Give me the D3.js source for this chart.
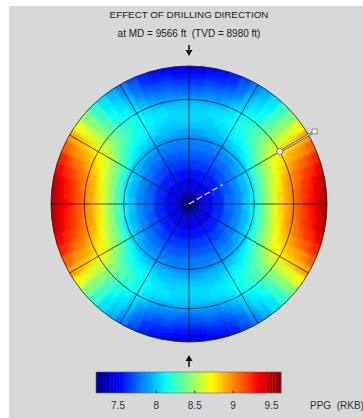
<!DOCTYPE html>
<html><head><meta charset="utf-8">
<script src="https://cdn.jsdelivr.net/npm/d3@7"></script>
<style>html,body{margin:0;padding:0;background:#fff;}svg{display:block;}</style>
</head><body>
<script>
// ---- data ----
const titleLines = ["EFFECT OF DRILLING DIRECTION", "at MD = 9566 ft  (TVD = 8980 ft)"];
// inclination rows (deg) and azimuth columns (deg, one quadrant; field is mirror-symmetric)
const inclinations = [0,5,10,15,20,25,30,35,40,45,50,55,60,65,70,75,80,85,90];
const azimuths = [0,5,10,15,20,25,30,35,40,45,50,55,60,65,70,75,80,85,90];
const ppg = [
  [7.32,7.32,7.32,7.32,7.32,7.32,7.32,7.32,7.32,7.32,7.32,7.32,7.32,7.32,7.32,7.32,7.32,7.32,7.32],
  [7.45,7.45,7.45,7.45,7.45,7.46,7.46,7.46,7.46,7.47,7.47,7.48,7.49,7.49,7.49,7.50,7.50,7.50,7.50],
  [7.55,7.55,7.55,7.55,7.55,7.56,7.56,7.57,7.57,7.58,7.58,7.59,7.60,7.61,7.61,7.62,7.62,7.62,7.62],
  [7.64,7.64,7.64,7.64,7.65,7.65,7.66,7.66,7.67,7.68,7.69,7.71,7.72,7.73,7.74,7.74,7.75,7.75,7.75],
  [7.72,7.72,7.72,7.72,7.73,7.73,7.74,7.75,7.76,7.77,7.79,7.80,7.82,7.83,7.84,7.85,7.86,7.86,7.86],
  [7.79,7.79,7.79,7.80,7.80,7.81,7.82,7.83,7.84,7.86,7.88,7.90,7.93,7.94,7.96,7.97,7.97,7.98,7.98],
  [7.85,7.85,7.85,7.86,7.86,7.88,7.89,7.91,7.92,7.94,7.97,8.00,8.03,8.05,8.07,8.08,8.09,8.10,8.10],
  [7.93,7.93,7.93,7.94,7.95,7.97,7.99,8.01,8.03,8.06,8.11,8.16,8.21,8.24,8.27,8.29,8.31,8.32,8.32],
  [7.99,7.99,8.00,8.00,8.01,8.03,8.06,8.09,8.12,8.16,8.22,8.28,8.35,8.39,8.43,8.46,8.48,8.50,8.50],
  [8.02,8.02,8.03,8.04,8.05,8.08,8.12,8.15,8.19,8.24,8.31,8.39,8.47,8.53,8.57,8.61,8.64,8.65,8.66],
  [8.03,8.03,8.04,8.05,8.07,8.10,8.15,8.19,8.24,8.30,8.39,8.49,8.59,8.66,8.71,8.76,8.80,8.81,8.82],
  [7.99,7.99,8.00,8.02,8.04,8.08,8.15,8.19,8.24,8.33,8.44,8.56,8.68,8.75,8.82,8.88,8.92,8.94,8.95],
  [7.90,7.90,7.91,7.93,7.96,8.02,8.10,8.15,8.22,8.33,8.45,8.59,8.73,8.82,8.90,8.97,9.02,9.04,9.05],
  [7.82,7.82,7.83,7.85,7.89,7.95,8.04,8.11,8.19,8.31,8.45,8.61,8.77,8.88,8.97,9.05,9.10,9.13,9.14],
  [7.74,7.74,7.76,7.78,7.81,7.89,7.99,8.07,8.15,8.29,8.45,8.63,8.81,8.92,9.03,9.12,9.18,9.21,9.22],
  [7.66,7.67,7.68,7.70,7.74,7.82,7.94,8.02,8.12,8.27,8.45,8.64,8.84,8.97,9.09,9.19,9.25,9.28,9.30],
  [7.58,7.59,7.60,7.63,7.67,7.76,7.89,7.98,8.08,8.25,8.44,8.66,8.88,9.02,9.15,9.25,9.33,9.36,9.38],
  [7.51,7.52,7.53,7.56,7.61,7.71,7.84,7.94,8.06,8.24,8.45,8.69,8.92,9.08,9.22,9.33,9.41,9.45,9.47],
  [7.45,7.46,7.47,7.50,7.56,7.66,7.81,7.91,8.04,8.23,8.46,8.71,8.96,9.13,9.28,9.40,9.49,9.53,9.55]
];
const gridInclinations = [30, 60, 90];
const gridAzimuths = [0,30,60,90,120,150,180,210,240,270,300,330];
const wellPoint = {azimuth: 60, inclination: 60};
const trajectoryEnd = {azimuth: 60, inclination: 14};
const colorDomain = [7.22, 9.63];
const colorTicks = [7.5, 8, 8.5, 9, 9.5];
const unitLabel = "PPG  (RKB)";

// ---- drawing ----
const W = 363, H = 418;
const FONT = "Liberation Sans, Arial, sans-serif";
const svg = d3.select("body").append("svg").attr("width", W).attr("height", H);
svg.append("rect").attr("width", W).attr("height", H).attr("fill", "#fff");
svg.append("rect").attr("x", 9).attr("y", 6).attr("width", W - 9).attr("height", H - 6).attr("fill", "#d8d8d8");

function jet(t) {
  const c = v => Math.max(0, Math.min(1, v));
  const r = c(1.5 - Math.abs(4 * t - 3)), g = c(1.5 - Math.abs(4 * t - 2)), b = c(1.5 - Math.abs(4 * t - 1));
  return d3.rgb(r * 255, g * 255, b * 255).toString();
}
const nLevels = 64;
const tScale = d3.scaleLinear().domain(colorDomain).range([0, 1]).clamp(true);
const color = v => {
  const k = Math.min(nLevels - 1, Math.floor(tScale(v) * nLevels));
  return jet((k + 0.5) / nLevels);
};

const cx = 189, cy = 204, R = 138;
const rScale = d3.scalePow().exponent(0.68).domain([0, 90]).range([0, R]);
const rad = d => d * Math.PI / 180;

const defs = svg.append("defs");
defs.append("clipPath").attr("id", "clipC").append("circle").attr("cx", cx).attr("cy", cy).attr("r", R);
const f = defs.append("filter").attr("id", "soft").attr("x", "-10%").attr("y", "-10%").attr("width", "120%").attr("height", "120%");
f.append("feGaussianBlur").attr("stdDeviation", 1.4);

const fieldClip = svg.append("g").attr("clip-path", "url(#clipC)")
  .append("g").attr("transform", `translate(${cx},${cy})`).attr("filter", "url(#soft)");

const cells = [];
const fullAz = d3.range(0, 360, 5);
inclinations.forEach((inc, i) => {
  fullAz.forEach(az => {
    let a = az % 180; if (a > 90) a = 180 - a;
    const j = azimuths.indexOf(a);
    cells.push({inc, az, v: ppg[i][j]});
  });
});
const arc = d3.arc()
  .innerRadius(d => rScale(Math.max(0, d.inc - 2.5)))
  .outerRadius(d => rScale(Math.min(90, d.inc + 2.5)) + (d.inc === 90 ? 8 : 0))
  .startAngle(d => rad(d.az - 2.5))
  .endAngle(d => rad(d.az + 2.5));
fieldClip.selectAll("path.cell").data(cells).join("path").attr("class", "cell")
  .attr("d", arc).attr("fill", d => color(d.v)).attr("stroke", d => color(d.v)).attr("stroke-width", 0.6);

const plot = svg.append("g").attr("transform", `translate(${cx},${cy})`);
// grid
plot.selectAll("circle.ring").data(gridInclinations).join("circle").attr("class", "ring")
  .attr("r", d => rScale(d)).attr("fill", "none").attr("stroke", "#111").attr("stroke-opacity", 0.75).attr("stroke-width", 1);
plot.selectAll("line.spoke").data(gridAzimuths).join("line").attr("class", "spoke")
  .attr("x1", 0).attr("y1", 0)
  .attr("x2", d => rScale(90) * Math.sin(rad(d)))
  .attr("y2", d => -rScale(90) * Math.cos(rad(d)))
  .attr("stroke", "#111").attr("stroke-opacity", 0.75).attr("stroke-width", 1);

// well direction marker
const px = (inc, az) => [rScale(inc) * Math.sin(rad(az)), -rScale(inc) * Math.cos(rad(az))];
const pW = px(wellPoint.inclination, wellPoint.azimuth);
const pT = px(trajectoryEnd.inclination, trajectoryEnd.azimuth);
const pE = [pW[0] * 145 / rScale(wellPoint.inclination), pW[1] * 145 / rScale(wellPoint.inclination)];
plot.append("line").attr("x1", 0).attr("y1", 0).attr("x2", pT[0]).attr("y2", pT[1])
  .attr("stroke", "#e6e6e6").attr("stroke-width", 1.3).attr("stroke-dasharray", "6,3");
plot.append("line").attr("x1", pW[0]).attr("y1", pW[1]).attr("x2", pE[0]).attr("y2", pE[1])
  .attr("stroke", "#555").attr("stroke-width", 2.4);
plot.append("line").attr("x1", pW[0]).attr("y1", pW[1]).attr("x2", pE[0]).attr("y2", pE[1])
  .attr("stroke", "#e8e8e8").attr("stroke-width", 1);
plot.append("rect").attr("x", pE[0] - 2.5).attr("y", pE[1] - 2.5).attr("width", 5).attr("height", 5)
  .attr("fill", "#f4f4f4").attr("stroke", "#777").attr("stroke-width", 0.8);
plot.append("circle").attr("cx", pW[0]).attr("cy", pW[1]).attr("r", 3.2)
  .attr("fill", "#fafafa").attr("stroke", "#666").attr("stroke-width", 1);

// titles
svg.selectAll("text.title").data(titleLines).join("text").attr("class", "title")
  .attr("x", cx).attr("y", (d, i) => 18 + i * 19).attr("text-anchor", "middle")
  .attr("font-family", FONT).attr("font-size", (d, i) => i === 0 ? 9.8 : 10)
  .attr("fill", "#222").style("white-space", "pre").text(d => d);

// arrows
function arrow(y0, y1) {
  const dir = Math.sign(y1 - y0);
  const g = svg.append("g");
  g.append("line").attr("x1", cx).attr("x2", cx).attr("y1", y0).attr("y2", y1 - dir * 4)
    .attr("stroke", "#111").attr("stroke-width", 1.5);
  g.append("path").attr("d", `M${cx - 3.5},${y1 - dir * 6}L${cx + 3.5},${y1 - dir * 6}L${cx},${y1}Z`).attr("fill", "#111");
}
arrow(45, 56);
arrow(367, 355);

// colorbar
const xBar = d3.scaleLinear().domain(colorDomain).range([96, 281]);
const levels = d3.range(nLevels);
const step = (colorDomain[1] - colorDomain[0]) / nLevels;
svg.append("g").selectAll("rect").data(levels).join("rect")
  .attr("x", k => xBar(colorDomain[0] + k * step))
  .attr("width", k => xBar(colorDomain[0] + (k + 1) * step) - xBar(colorDomain[0] + k * step) + 0.4)
  .attr("y", 372).attr("height", 21)
  .attr("fill", k => jet((k + 0.5) / nLevels));
svg.append("rect").attr("x", 96).attr("y", 372).attr("width", 185).attr("height", 21)
  .attr("fill", "none").attr("stroke", "#666").attr("stroke-width", 0.6);
const axis = d3.axisBottom(xBar).tickValues(colorTicks).tickSize(-2.5).tickPadding(9).tickFormat(d3.format("~g"));
const ax = svg.append("g").attr("transform", "translate(0,393)").call(axis);
ax.select(".domain").remove();
ax.selectAll("line").attr("stroke", "#333");
ax.selectAll("text").attr("font-family", FONT).attr("font-size", 10).attr("fill", "#333");
svg.append("text").attr("x", 310).attr("y", 409).attr("font-family", FONT)
  .attr("font-size", 10).attr("fill", "#333").style("white-space", "pre").text(unitLabel);
</script>
</body></html>
